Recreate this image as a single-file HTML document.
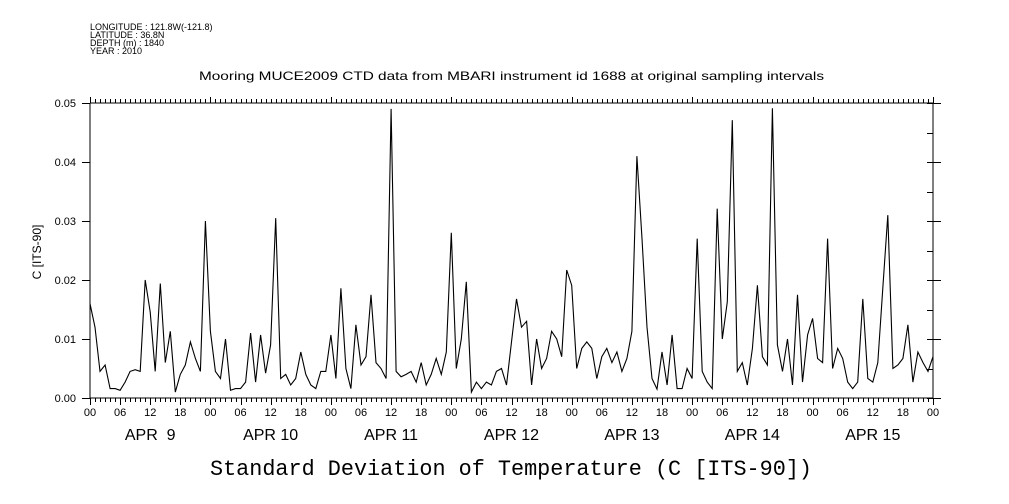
<!DOCTYPE html>
<html><head><meta charset="utf-8"><style>
html,body{margin:0;padding:0;background:#fff;}
svg{display:block;}
text{fill:#000;}
</style></head><body>
<svg id="chart" width="1009" height="504" viewBox="0 0 1009 504" xmlns="http://www.w3.org/2000/svg">
<g font-family="Liberation Sans, sans-serif" font-size="9">
<text x="90" y="30">LONGITUDE : 121.8W(-121.8)</text>
<text x="90" y="38">LATITUDE : 36.8N</text>
<text x="90" y="46">DEPTH (m) : 1840</text>
<text x="90" y="54">YEAR : 2010</text>
</g>
<text x="199" y="80" font-family="Liberation Sans, sans-serif" font-size="12" textLength="625" lengthAdjust="spacingAndGlyphs">Mooring MUCE2009 CTD data from MBARI instrument id 1688 at original sampling intervals</text>
<text transform="translate(41,252) rotate(-90)" text-anchor="middle" font-family="Liberation Sans, sans-serif" font-size="12">C [ITS-90]</text>
<text x="511" y="475" text-anchor="middle" font-family="Liberation Mono, monospace" font-size="22" textLength="602" lengthAdjust="spacingAndGlyphs">Standard Deviation of Temperature (C [ITS-90])</text>
<g id="axes"></g>
<path id="series" fill="none" stroke="#000" stroke-width="1.1"/>
</svg>
<script>
const values = [16,12,4.5,5.6,1.6,1.6,1.3,2.7,4.5,4.8,4.5,20,14.6,4.5,19.4,6,11.3,1,4,5.6,9.5,6.7,4.5,30,11.3,4.5,3.3,10,1.3,1.6,1.6,2.7,11,2.7,10.7,4.2,9,30.5,3.3,4,2.2,3.3,7.8,4,2.2,1.6,4.5,4.5,10.7,3.3,18.6,5,1.6,12.4,5.6,7,17.5,6,5,3.3,49,4.5,3.6,4,4.5,2.7,6,2.2,4,6.7,4,7.8,28,5,10,19.7,1,2.7,1.6,2.7,2.2,4.5,5,2.2,9.5,16.8,12,13,2.2,10,5,6.7,11.3,10,7,21.7,19.1,5,8.4,9.5,8.4,3.3,7,8.4,6,7.8,4.5,6.7,11.3,41,27,12,3.3,1.5,7.8,2.2,10.7,1.6,1.6,5,3.3,27,4.5,2.7,1.6,32.1,10,16.3,47.1,4.5,6,2.2,8.4,19.1,7,5.6,49.1,9,4.5,10,2.2,17.5,2.7,10.7,13.5,6.7,6,27,5,8.4,6.7,2.7,1.6,2.7,16.8,3.3,2.7,6,18.6,31,5,5.6,6.7,12.4,2.7,7.8,6,4.5,7];
const yTicks = [0,0.01,0.02,0.03,0.04,0.05];
const yTickLabels = ["0.00","0.01","0.02","0.03","0.04","0.05"];
const hourLabels = ["00","06","12","18"];
const dayLabels = ["APR  9","APR 10","APR 11","APR 12","APR 13","APR 14","APR 15"];

const X0=90,X1=933,Y0=398,Y1=103,TOTAL_H=168;
const xs=h=>X0+(X1-X0)*h/TOTAL_H;
const ys=v=>Y0-(Y0-Y1)*v/0.05;
const NS="http://www.w3.org/2000/svg";
const axes=document.getElementById('axes');
function mk(tag,attrs,parent){const e=document.createElementNS(NS,tag);for(const k in attrs)e.setAttribute(k,attrs[k]);(parent||axes).appendChild(e);return e;}
let d='';
function seg(x1,y1,x2,y2){d+=`M${x1},${y1}L${x2},${y2}`;}
seg(X0,Y1,X1,Y1);seg(X0,Y0,X1,Y0);seg(X0,Y1,X0,Y0);seg(X1,Y1,X1,Y0);
for(let h=0;h<=TOTAL_H;h++){
  const x=Math.round(xs(h))+0.5;
  seg(x,Y0,x,Y0+(h%6===0?7:4));
  seg(x,Y1,x,Y1-(h%24===0?6:4));
}
for(let i=0;i<=10;i++){
  const y=Math.round(ys(i*0.005))+0.5;
  const major=i%2===0;
  if(major) seg(X0-8,y,X0,y);
  seg(X1-6,y,X1+(major?8:0),y);
}
const ap=mk('path',{d:d,stroke:'#000','stroke-width':1,fill:'none'});


yTicks.forEach((v,i)=>{
  const t=mk('text',{x:76,y:ys(v)+4,'text-anchor':'end','font-family':'Liberation Sans, sans-serif','font-size':11});
  t.textContent=yTickLabels[i];
  
  
});
for(let h=0;h<=TOTAL_H;h+=6){
  const t=mk('text',{x:xs(h),y:416,'text-anchor':'middle','font-family':'Liberation Sans, sans-serif','font-size':11});
  t.textContent=hourLabels[(h/6)%4];
  
  
}
dayLabels.forEach((lab,i)=>{
  const t=mk('text',{x:xs(i*24+12),y:440,'text-anchor':'middle','font-family':'Liberation Sans, sans-serif','font-size':16});
  t.style.whiteSpace='pre';
  t.textContent=lab;
  
  
});
const step=TOTAL_H/(values.length-1);
document.getElementById('series').setAttribute('d',values.map((v,i)=>(i?'L':'M')+xs(i*step).toFixed(1)+','+ys(v/1000).toFixed(1)).join(''));
</script>
</body></html>
